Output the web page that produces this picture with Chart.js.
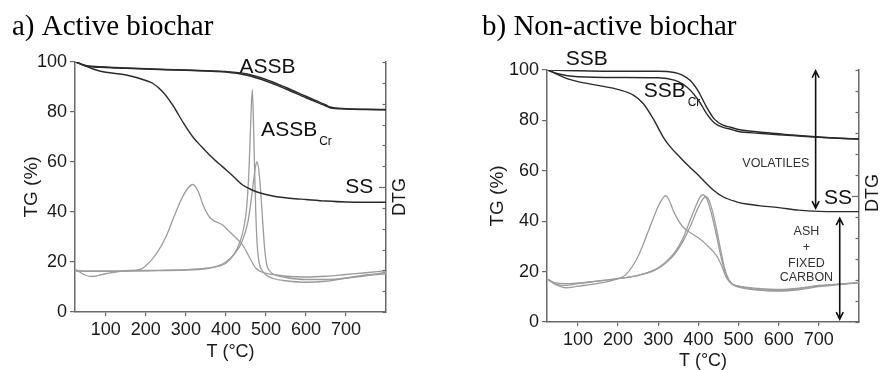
<!DOCTYPE html>
<html>
<head>
<meta charset="utf-8">
<script src="https://cdn.jsdelivr.net/npm/chart.js@4.4.0/dist/chart.umd.min.js"></script>
<style>
  body { margin: 0; background: #fff; }
  #wrap { position: relative; width: 881px; height: 370px; }
  .panel { position: absolute; top: 0; height: 370px; }
</style>
</head>
<body>
<div id="wrap">
  <div class="panel" style="left:0;width:440px"><canvas id="chartA"></canvas></div>
  <div class="panel" style="left:440px;width:441px"><canvas id="chartB"></canvas></div>
</div>
<script>
// ---- shared axis ticks ----
const xTicks = [100, 200, 300, 400, 500, 600, 700];
const yTicks = [0, 20, 40, 60, 80, 100];

// ---- a) Active biochar ----
const a_assb_T   = [25, 50, 100, 150, 200, 250, 300, 350, 400, 450, 500, 550, 600, 650, 660, 700, 750, 800];
const a_assb_TG  = [100, 98.6, 98.0, 97.6, 97.3, 97.0, 96.8, 96.5, 96.2, 95.3, 93.0, 89.8, 86.3, 82.8, 82.0, 81.3, 81.1, 81.0];
const a_assbCr_TG= [100, 98.4, 97.8, 97.5, 97.2, 96.9, 96.7, 96.4, 96.0, 94.8, 92.4, 89.2, 85.7, 82.4, 81.7, 81.2, 81.0, 80.9];

const a_ss_T  = [25, 50, 76, 100, 151, 200, 217, 242, 267, 292, 317, 340, 359, 380, 401, 420, 442, 460, 476, 500, 526, 560, 600, 650, 700, 750, 800];
const a_ss_TG = [100, 98.4, 96.8, 95.9, 94.8, 92.6, 91.5, 88.1, 82.8, 76.1, 70.1, 66.0, 62.8, 59.7, 56.8, 54.0, 50.8, 49.2, 48.1, 47.0, 46.1, 45.5, 45.0, 44.4, 44.0, 43.9, 43.9];

const a_ssDtg_T = [25, 45, 65, 100, 150, 185, 200, 225, 250, 270, 290, 305, 317, 330, 345, 360, 392, 410, 426, 443, 460, 475, 493, 518, 550, 600, 650, 700, 750, 800];
const a_ssDtg   = [17.0, 15.0, 14.2, 15.3, 16.5, 17.0, 18.5, 23.0, 30.0, 38.0, 45.5, 49.5, 51.0, 48.5, 42.0, 37.8, 34.8, 32.0, 29.5, 26.5, 21.5, 17.5, 15.8, 15.0, 14.3, 14.0, 14.3, 15.0, 15.7, 16.5];

const a_assbDtg_T = [25, 60, 100, 200, 300, 350, 380, 400, 420, 435, 445, 452, 458, 462, 466, 469, 472, 475, 479, 484, 492, 500, 520, 550, 600, 650, 700, 750, 800];
const a_assbDtg   = [16.4, 16.3, 16.3, 16.5, 16.8, 17.3, 18.2, 19.5, 23.0, 28.0, 34.0, 42.0, 58.0, 76.0, 89.0, 75.0, 55.0, 38.0, 25.0, 19.0, 16.3, 14.8, 13.3, 12.5, 11.9, 12.3, 13.6, 14.8, 15.8];

const a_assbCrDtg_T = [25, 60, 100, 200, 300, 350, 380, 400, 420, 440, 455, 465, 472, 477, 482, 487, 492, 497, 502, 510, 520, 550, 600, 650, 700, 750, 800];
const a_assbCrDtg   = [16.6, 16.3, 16.3, 16.6, 16.9, 17.5, 18.5, 20.0, 23.0, 28.0, 36.0, 47.0, 56.0, 60.0, 57.0, 48.0, 36.0, 25.0, 19.0, 16.3, 15.0, 13.8, 13.0, 13.0, 13.5, 14.5, 15.3];

// ---- b) Non-active biochar ----
const b_ssb_T    = [25, 50, 100, 200, 300, 340, 360, 380, 400, 410, 420, 440, 460, 480, 500, 550, 600, 650, 700, 750, 800];
const b_ssb_TG   = [100, 99.9, 99.7, 99.5, 99.5, 99.0, 98.0, 95.8, 91.5, 88.5, 85.4, 80.5, 78.2, 77.3, 76.4, 75.4, 74.7, 74.0, 73.4, 72.9, 72.6];
const b_ssbCr_TG = [100, 98.5, 97.3, 97.0, 96.9, 96.0, 94.5, 92.0, 88.0, 85.5, 82.8, 79.0, 77.3, 76.5, 75.6, 74.9, 74.3, 73.8, 73.3, 72.9, 72.6];

const b_ss_T  = [25, 50, 71, 100, 146, 204, 237, 262, 287, 312, 330, 353, 375, 395, 415, 437, 461, 495, 520, 550, 600, 650, 700, 750, 800];
const b_ss_TG = [100, 98.2, 96.7, 95.4, 94.0, 92.1, 90.1, 86.8, 80.8, 73.5, 69.5, 65.6, 62.0, 59.0, 55.8, 52.4, 49.7, 47.7, 46.8, 46.2, 45.4, 44.4, 43.9, 43.8, 43.8];

const b_ssDtg_T = [25, 45, 70, 100, 150, 200, 220, 250, 280, 300, 310, 318, 325, 340, 360, 380, 400, 420, 440, 450, 460, 470, 485, 500, 550, 600, 650, 700, 750, 800];
const b_ssDtg   = [16.9, 14.8, 13.6, 14.2, 15.3, 17.2, 18.9, 26.1, 38.0, 45.9, 48.8, 50.1, 49.0, 43.3, 38.0, 35.4, 33.4, 30.7, 27.4, 25.0, 21.5, 17.5, 15.0, 14.2, 13.3, 12.9, 13.4, 14.5, 15.0, 15.6];

const b_ssbDtg_T = [25, 45, 70, 100, 150, 200, 250, 300, 340, 360, 380, 395, 405, 412, 420, 430, 440, 450, 460, 470, 480, 500, 550, 600, 650, 700, 750, 800];
const b_ssbDtg   = [16.9, 15.0, 14.5, 15.2, 16.2, 17.2, 18.5, 21.5, 27.4, 32.7, 40.6, 46.5, 49.8, 50.5, 49.2, 44.5, 38.0, 30.5, 23.5, 18.5, 15.6, 14.2, 12.8, 12.3, 12.8, 14.0, 14.8, 15.6];

const b_ssbCrDtg_T = [25, 45, 70, 100, 150, 200, 250, 300, 340, 360, 380, 400, 410, 418, 425, 435, 445, 455, 465, 475, 485, 500, 550, 600, 650, 700, 750, 800];
const b_ssbCrDtg   = [16.9, 15.5, 15.2, 15.5, 16.3, 17.2, 18.5, 21.3, 26.8, 31.5, 38.0, 45.5, 48.5, 49.8, 48.8, 44.0, 37.0, 29.0, 21.5, 17.0, 15.0, 13.8, 12.7, 12.5, 13.2, 14.3, 15.0, 15.6];

const TG_COLOR = '#2b2b2b';
const DTG_COLOR = '#9c9c9c';
const AXIS_COLOR = '#6a6a6a';
const TEXT_COLOR = '#1a1a1a';
const SANS = '"Liberation Sans", Arial, sans-serif';
const SERIF = '"Liberation Serif", "Times New Roman", serif';

const pts = (T, V) => T.map((t, i) => ({x: t, y: V[i]}));

function tgSet(T, V) {
  return {data: pts(T, V), yAxisID: 'y', borderColor: TG_COLOR, borderWidth: 1.4,
          pointRadius: 0, cubicInterpolationMode: 'monotone', fill: false};
}
function dtgSet(T, V) {
  return {data: pts(T, V), yAxisID: 'y2', borderColor: DTG_COLOR, borderWidth: 1.3,
          pointRadius: 0, cubicInterpolationMode: 'monotone', fill: false};
}

function makePanel({canvas_id, W, H, box, title, titleX, datasets, labels, arrows, texts, yTitlePad, xTitlePad, dtgOff}) {
  const annotate = {
    id: 'annotate',
    afterDraw(chart) {
      const ctx = chart.ctx;
      const xs = chart.scales.x, ys = chart.scales.y;
      const area = chart.chartArea;
      const px = (t) => xs.getPixelForValue(t);
      const py = (v) => ys.getPixelForValue(v);
      ctx.save();

      // panel title
      ctx.fillStyle = '#000';
      ctx.font = `29px ${SERIF}`;
      ctx.textAlign = 'left';
      ctx.textBaseline = 'alphabetic';
      ctx.fillText(title, titleX, 35);

      // DTG axis: inward ticks + rotated title
      ctx.strokeStyle = AXIS_COLOR;
      ctx.lineWidth = 1.2;
      for (let i = 0; i <= 12; i++) {
        const y = Math.round(area.top + i * (area.bottom - area.top) / 12) + 0.5;
        const len = i === 6 ? 7 : 3.5;
        ctx.beginPath();
        ctx.moveTo(area.right, y);
        ctx.lineTo(area.right - len, y);
        ctx.stroke();
      }
      ctx.save();
      ctx.translate(area.right + dtgOff[0], (area.top + area.bottom) / 2 + dtgOff[1]);
      ctx.rotate(-Math.PI / 2);
      ctx.fillStyle = TEXT_COLOR;
      ctx.font = `18px ${SANS}`;
      ctx.textAlign = 'center';
      ctx.textBaseline = 'middle';
      ctx.fillText('DTG', 0, 0);
      ctx.restore();

      // curve labels (with optional subscript)
      ctx.fillStyle = '#111';
      ctx.textBaseline = 'middle';
      labels.forEach(l => {
        ctx.font = `21px ${SANS}`;
        ctx.textAlign = 'center';
        const x = px(l.t), y = py(l.v);
        ctx.fillText(l.text, x, y);
        if (l.sub) {
          const w = ctx.measureText(l.text).width;
          ctx.font = `12px ${SANS}`;
          ctx.textAlign = 'left';
          ctx.fillText(l.sub, x + w / 2 + 2, y + 11.5);
        }
      });

      // small annotation texts
      ctx.fillStyle = '#333';
      ctx.font = `12.5px ${SANS}`;
      ctx.textAlign = 'center';
      texts.forEach(s => ctx.fillText(s.text, px(s.t), py(s.v)));

      // double-headed arrows
      ctx.strokeStyle = '#111';
      ctx.lineWidth = 1.6;
      arrows.forEach(a => {
        const x = px(a.t), y1 = py(a.v1), y2 = py(a.v2);
        ctx.beginPath();
        ctx.moveTo(x, y1); ctx.lineTo(x, y2);
        ctx.moveTo(x - 3.5, y1 + 7); ctx.lineTo(x, y1); ctx.lineTo(x + 3.5, y1 + 7);
        ctx.moveTo(x - 3.5, y2 - 7); ctx.lineTo(x, y2); ctx.lineTo(x + 3.5, y2 - 7);
        ctx.stroke();
      });
      ctx.restore();
    }
  };

  const tickFont = {family: SANS, size: 18};
  const config = {
    type: 'line',
    data: {datasets: datasets},
    options: {
      responsive: true,
      maintainAspectRatio: false,
      animation: false,
      layout: {padding: {top: box.top, left: 0, right: 0, bottom: 0}},
      plugins: {legend: {display: false}, tooltip: {enabled: false}},
      scales: {
        x: {
          type: 'linear', min: 23, max: 800,
          afterBuildTicks: (s) => { s.ticks = xTicks.map(v => ({value: v})); },
          afterFit: (s) => { s.height = H - box.bottom; },
          ticks: {font: tickFont, color: TEXT_COLOR, padding: 3, maxRotation: 0, autoSkip: false},
          grid: {drawOnChartArea: false, tickLength: 4, color: AXIS_COLOR, lineWidth: 1.2},
          border: {color: AXIS_COLOR, width: 1.5},
          title: {display: true, text: 'T (°C)', color: TEXT_COLOR,
                  font: {family: SANS, size: 18, lineHeight: 1}, padding: {top: 0, bottom: xTitlePad}}
        },
        y: {
          position: 'left', min: 0, max: 100,
          afterBuildTicks: (s) => { s.ticks = yTicks.map(v => ({value: v})); },
          afterFit: (s) => { s.width = box.left; },
          ticks: {font: tickFont, color: TEXT_COLOR, padding: 3},
          grid: {drawOnChartArea: false, tickLength: 5, color: AXIS_COLOR, lineWidth: 1.2},
          border: {color: AXIS_COLOR, width: 1.5},
          title: {display: true, text: 'TG (%)', color: TEXT_COLOR,
                  font: {family: SANS, size: 19, lineHeight: 1}, padding: {top: yTitlePad, bottom: 0}}
        },
        y2: {
          position: 'right', min: 0, max: 100,
          afterFit: (s) => { s.width = W - box.right; },
          ticks: {display: false},
          grid: {display: false},
          border: {color: AXIS_COLOR, width: 1.5}
        }
      }
    },
    plugins: [annotate]
  };
  new Chart(document.getElementById(canvas_id), config);
}

makePanel({
  canvas_id: 'chartA', W: 440, H: 370,
  box: {left: 75, right: 386, top: 62, bottom: 312},
  title: 'a) Active biochar', titleX: 12,
  datasets: [
    tgSet(a_assb_T, a_assb_TG), tgSet(a_assb_T, a_assbCr_TG), tgSet(a_ss_T, a_ss_TG),
    dtgSet(a_ssDtg_T, a_ssDtg), dtgSet(a_assbDtg_T, a_assbDtg), dtgSet(a_assbCrDtg_T, a_assbCrDtg)
  ],
  labels: [
    {text: 'ASSB', t: 504, v: 98.1},
    {text: 'ASSB', sub: 'Cr', t: 558, v: 72.8},
    {text: 'SS', t: 733, v: 50.1}
  ],
  texts: [], arrows: [],
  yTitlePad: 22, xTitlePad: 9, dtgOff: [14, 10]
});

makePanel({
  canvas_id: 'chartB', W: 441, H: 370,
  box: {left: 107, right: 419, top: 70, bottom: 322},
  title: 'b) Non-active biochar', titleX: 42,
  datasets: [
    tgSet(b_ssb_T, b_ssb_TG), tgSet(b_ssb_T, b_ssbCr_TG), tgSet(b_ss_T, b_ss_TG),
    dtgSet(b_ssDtg_T, b_ssDtg), dtgSet(b_ssbDtg_T, b_ssbDtg), dtgSet(b_ssbCrDtg_T, b_ssbCrDtg)
  ],
  labels: [
    {text: 'SSB', t: 122, v: 104.3},
    {text: 'SSB', sub: 'Cr', t: 316, v: 91.7},
    {text: 'SS', t: 748, v: 49.1}
  ],
  texts: [
    {text: 'VOLATILES', t: 593, v: 62.8},
    {text: 'ASH', t: 669, v: 35.8},
    {text: '+', t: 669, v: 29.6},
    {text: 'FIXED', t: 669, v: 23.3},
    {text: 'CARBON', t: 669, v: 17.6}
  ],
  arrows: [
    {t: 692, v1: 99.7, v2: 45.2},
    {t: 752, v1: 41.2, v2: 1.1}
  ],
  yTitlePad: 48, xTitlePad: 0, dtgOff: [14, -3]
});
</script>
</body>
</html>
